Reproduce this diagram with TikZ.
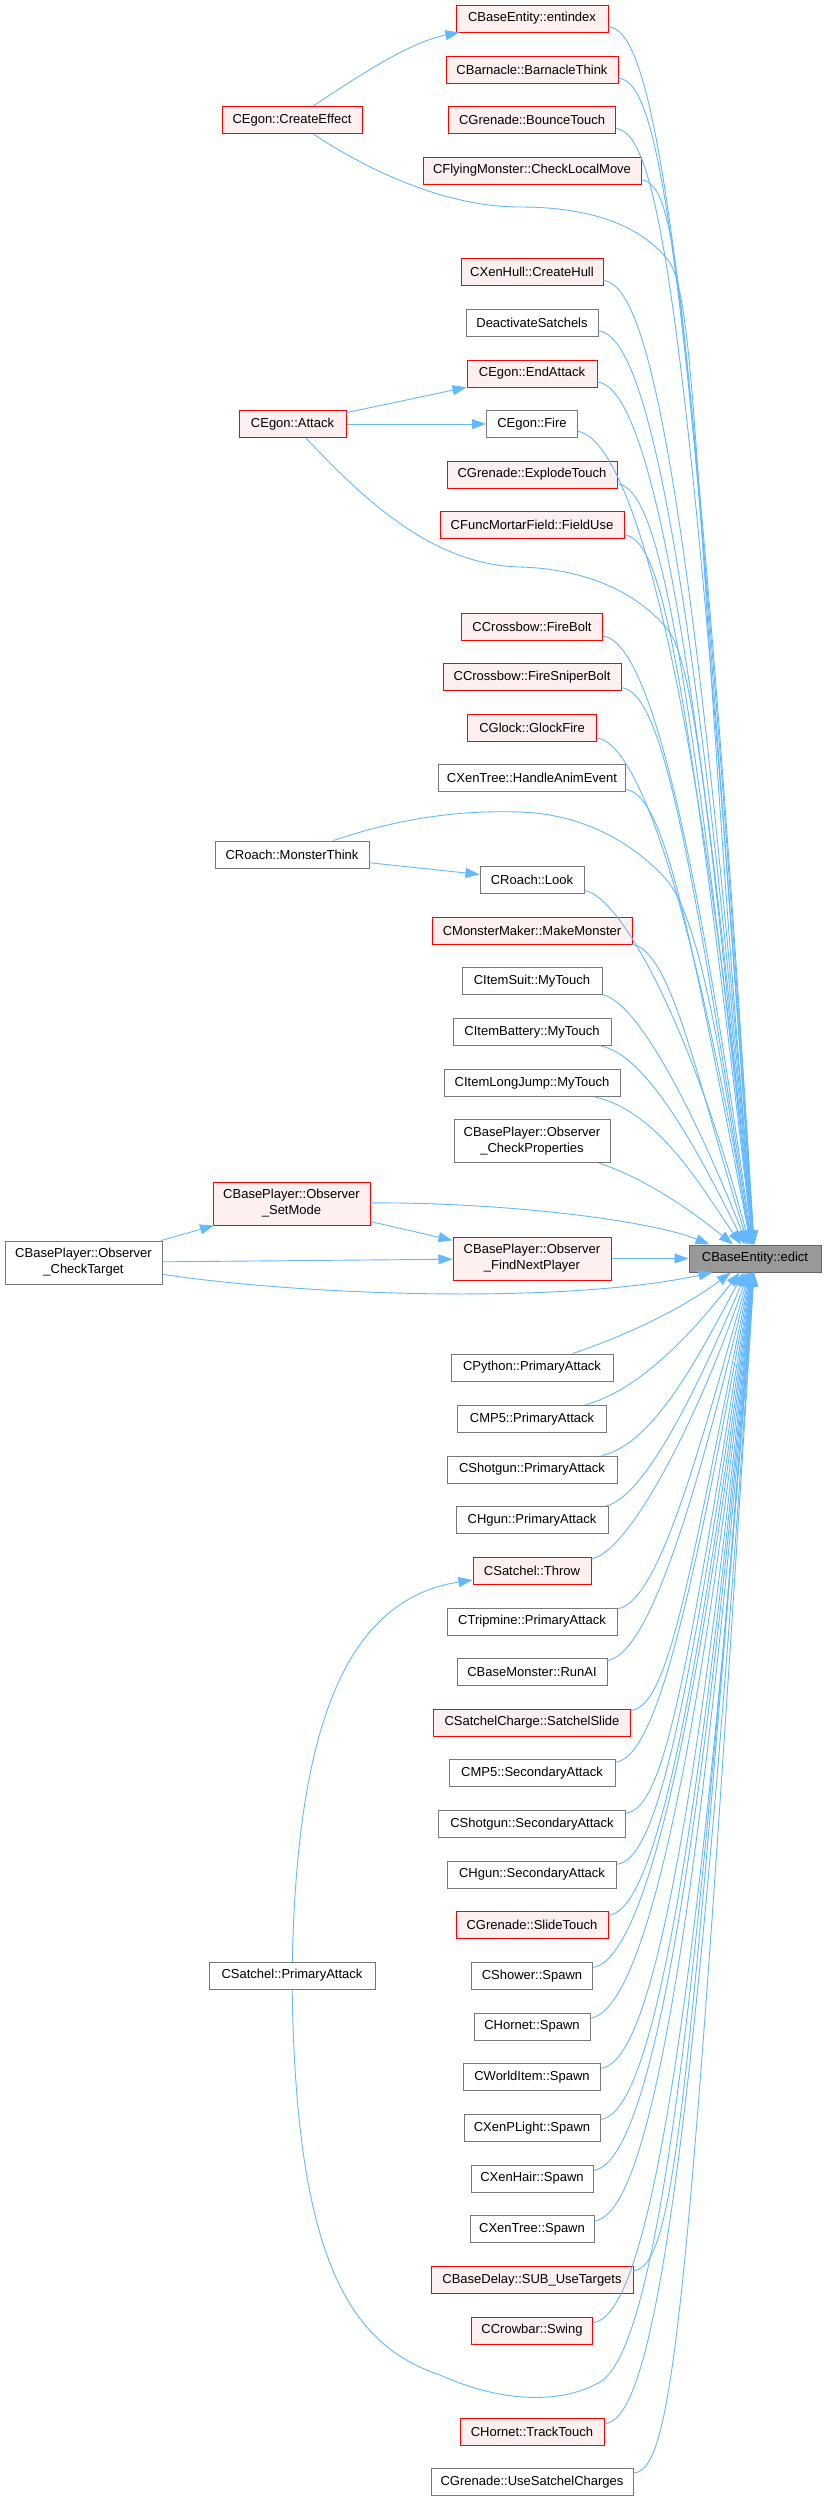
\documentclass[tikz,border=0pt]{standalone}
\usepackage{fontspec}
\setmainfont{Liberation Sans}
\usetikzlibrary{arrows.meta,calc}
\definecolor{edgeblue}{HTML}{63B8FF}
\definecolor{redfill}{HTML}{FFF0F0}
\definecolor{redline}{HTML}{FF0000}
\definecolor{grayline}{HTML}{777777}
\definecolor{edictfill}{HTML}{999999}
\definecolor{edictline}{HTML}{666666}
\begin{document}
\begin{tikzpicture}[x=1pt,y=-1pt,
  box/.style={rectangle, draw, line width=1pt, minimum height=27pt, inner sep=2pt,
    font=\fontsize{13pt}{16pt}\selectfont, align=center, text=black},
  rbox/.style={box, draw=redline, fill=redfill},
  gbox/.style={box, draw=grayline, fill=white},
  ebox/.style={box, draw=edictline, fill=edictfill},
  tall/.style={minimum height=43pt},
  calls/.style={draw=edgeblue, line width=0.9pt, -{Triangle[length=14pt,width=10pt]}}]
\fill[white] (0,0) rectangle (825,2501);
\useasboundingbox (0,0) rectangle (825,2501);

% target
\node[ebox, minimum width=132pt] (edict) at (755,1258.5) {CBaseEntity::edict};

% left column
\node[rbox, minimum width=140pt] (ce) at (292,120) {CEgon::CreateEffect};
\node[rbox, minimum width=107pt] (attack) at (292.5,424) {CEgon::Attack};
\node[gbox, minimum width=154pt] (mthink) at (292,854.5) {CRoach::MonsterThink};
\node[rbox, tall, minimum width=157pt] (setmode) at (291.5,1203.5) {CBasePlayer::Observer\\\_SetMode};
\node[gbox, minimum width=166pt] (pa) at (292,1975.5) {CSatchel::PrimaryAttack};
\node[gbox, tall, minimum width=157pt] (ct) at (83.5,1262.5) {CBasePlayer::Observer\\\_CheckTarget};

% middle column (upper)
\node[rbox, minimum width=152pt] (ent) at (532,18.5) {CBaseEntity::entindex};
\node[rbox, minimum width=172pt] (barn) at (532,69.5) {CBarnacle::BarnacleThink};
\node[rbox, minimum width=167pt] (bounce) at (532,120) {CGrenade::BounceTouch};
\node[rbox, minimum width=218pt] (clm) at (532,170.5) {CFlyingMonster::CheckLocalMove};
\node[rbox, minimum width=142pt] (hull) at (532,272) {CXenHull::CreateHull};
\node[gbox, minimum width=132pt] (deact) at (532,322.5) {DeactivateSatchels};
\node[rbox, minimum width=130pt] (endatt) at (532,373.5) {CEgon::EndAttack};
\node[gbox, minimum width=91pt] (fire) at (532,424) {CEgon::Fire};
\node[rbox, minimum width=170pt] (explode) at (532,474.5) {CGrenade::ExplodeTouch};
\node[rbox, minimum width=184pt] (fielduse) at (532,525) {CFuncMortarField::FieldUse};
\node[rbox, minimum width=141pt] (firebolt) at (532,626.5) {CCrossbow::FireBolt};
\node[rbox, minimum width=178pt] (sniper) at (532,677) {CCrossbow::FireSniperBolt};
\node[rbox, minimum width=129pt] (glock) at (532,728) {CGlock::GlockFire};
\node[gbox, minimum width=187pt] (anim) at (532,778) {CXenTree::HandleAnimEvent};
\node[gbox, minimum width=104pt] (look) at (532,880) {CRoach::Look};
\node[rbox, minimum width=200pt] (make) at (532,930.5) {CMonsterMaker::MakeMonster};
\node[gbox, minimum width=140pt] (suit) at (532,981) {CItemSuit::MyTouch};
\node[gbox, minimum width=158pt] (battery) at (532,1032) {CItemBattery::MyTouch};
\node[gbox, minimum width=176pt] (longjump) at (532,1083) {CItemLongJump::MyTouch};
\node[gbox, tall, minimum width=156pt] (checkprop) at (532,1141) {CBasePlayer::Observer\\\_CheckProperties};
\node[rbox, tall, minimum width=158pt] (fnp) at (532,1258.5) {CBasePlayer::Observer\\\_FindNextPlayer};

% middle column (lower)
\node[gbox, minimum width=162pt] (python) at (532,1367.5) {CPython::PrimaryAttack};
\node[gbox, minimum width=149pt] (mp5) at (532,1419) {CMP5::PrimaryAttack};
\node[gbox, minimum width=170pt] (shotgun) at (532,1469.5) {CShotgun::PrimaryAttack};
\node[gbox, minimum width=152pt] (hgun) at (532,1520) {CHgun::PrimaryAttack};
\node[rbox, minimum width=118pt] (throw) at (532,1571) {CSatchel::Throw};
\node[gbox, minimum width=170pt] (trip) at (532,1621.5) {CTripmine::PrimaryAttack};
\node[gbox, minimum width=150pt] (runai) at (532,1672) {CBaseMonster::RunAI};
\node[rbox, minimum width=197pt] (slide) at (532,1722.5) {CSatchelCharge::SatchelSlide};
\node[gbox, minimum width=166pt] (mpfives) at (532,1773) {CMP5::SecondaryAttack};
\node[gbox, minimum width=187pt] (shotguns) at (532,1824) {CShotgun::SecondaryAttack};
\node[gbox, minimum width=169pt] (hguns) at (532,1874.5) {CHgun::SecondaryAttack};
\node[rbox, minimum width=152pt] (slidet) at (532,1925) {CGrenade::SlideTouch};
\node[gbox, minimum width=121pt] (shower) at (532,1976) {CShower::Spawn};
\node[gbox, minimum width=116pt] (hornet) at (532,2026.5) {CHornet::Spawn};
\node[gbox, minimum width=137pt] (world) at (532,2077) {CWorldItem::Spawn};
\node[gbox, minimum width=136pt] (plight) at (532,2128) {CXenPLight::Spawn};
\node[gbox, minimum width=122pt] (hair) at (532,2178.5) {CXenHair::Spawn};
\node[gbox, minimum width=124pt] (tree) at (532,2229) {CXenTree::Spawn};
\node[rbox, minimum width=202pt] (subuse) at (532,2280) {CBaseDelay::SUB\_UseTargets};
\node[rbox, minimum width=121pt] (swing) at (532,2330.5) {CCrowbar::Swing};
\node[rbox, minimum width=144pt] (track) at (532,2432) {CHornet::TrackTouch};
\node[gbox, minimum width=202pt] (usesat) at (532,2482) {CGrenade::UseSatchelCharges};

% generic edges from upper middle nodes
\foreach \n/\xr/\yc in {ent/608/18.5, barn/618/69.5, bounce/615.5/120, clm/641/170.5,
  hull/603/272, deact/598/322.5, endatt/597/373.5, fire/577.5/424, explode/617/474.5,
  fielduse/624/525, firebolt/602.5/626.5, sniper/621/677, glock/596.5/728, anim/625.5/778,
  look/584/880, make/632/930.5, suit/602/981, battery/611/1032, longjump/620/1083,
  checkprop/610/1141} {
  \pgfmathsetmacro\dy{1245-\yc}
  \pgfmathsetmacro\ex{756-2400/\dy}
  \pgfmathsetmacro\off{\ex-755}
  \pgfmathsetmacro\cay{\yc+10+3000/\dy}
  \pgfmathsetmacro\th{atan(pow(\dy/120,1.2))}
  \pgfmathsetmacro\L{max(\dy-150,0.4*\dy)}
  \pgfmathsetmacro\cbx{\ex-\L*cos(\th)}
  \pgfmathsetmacro\cby{1245-\L*sin(\th)}
  \draw[calls] (\n) .. controls (\xr+40,\cay) and (\cbx,\cby) .. ($(edict.north)+(\off,0)$);
}

% generic edges from lower middle nodes
\foreach \n/\xr/\yc in {python/613/1367.5, mp5/606.5/1419, shotgun/617/1469.5, hgun/608/1520,
  throw/591/1571, trip/617/1621.5, runai/607/1672, slide/630.5/1722.5, mpfives/615/1773,
  shotguns/625.5/1824, hguns/616.5/1874.5, slidet/608/1925, shower/592.5/1976,
  hornet/590/2026.5, world/600.5/2077, plight/600/2128, hair/593/2178.5, tree/594/2229,
  subuse/633/2280, swing/592.5/2330.5, track/604/2432, usesat/633/2482} {
  \pgfmathsetmacro\dy{\yc-1272}
  \pgfmathsetmacro\ex{756-2400/\dy}
  \pgfmathsetmacro\off{\ex-755}
  \pgfmathsetmacro\cay{\yc-10-3000/\dy}
  \pgfmathsetmacro\th{atan(pow(\dy/120,1.2))}
  \pgfmathsetmacro\L{max(\dy-150,0.4*\dy)}
  \pgfmathsetmacro\cbx{\ex-\L*cos(\th)}
  \pgfmathsetmacro\cby{1272+\L*sin(\th)}
  \draw[calls] (\n) .. controls (\xr+40,\cay) and (\cbx,\cby) .. ($(edict.south)+(\off,0)$);
}

% special edges
\draw[calls] (ce) .. controls (360,75) and (410,42) .. (ent);
\draw[calls] (ce) .. controls (360,165) and (440,207) .. (520,207)
  .. controls (590,207) and (640,225) .. (668,260)
  .. controls (699,298) and (695,560) .. ($(edict.north)+(-1,0)$);

\draw[calls] (attack) -- (endatt);
\draw[calls] (attack) -- (fire);
\draw[calls] (attack) .. controls (360,495) and (430,565) .. (520,567)
  .. controls (590,569) and (640,595) .. (668,630)
  .. controls (696,665) and (712,850) .. ($(edict.north)+(-2,0)$);

\draw[calls] (mthink) -- (look);
\draw[calls] (mthink) .. controls (400,818) and (460,810) .. (520,812)
  .. controls (580,814) and (630,840) .. (665,878)
  .. controls (700,916) and (722,1060) .. ($(edict.north)+(-5,0)$);

\draw[calls] (ct) -- (setmode);
\draw[calls] (ct) -- (fnp);
\draw[calls] (setmode) -- (fnp);
\draw[calls] (fnp) -- (edict);
\draw[calls] (setmode) .. controls (500,1202) and (650,1220) .. ($(edict.north west)+(21,0)$);
\draw[calls] (ct) .. controls (300,1295) and (560,1305) .. ($(edict.south west)+(24,0)$);

\draw[calls] (pa) .. controls (297,1740) and (340,1600) .. (throw);
\draw[calls] (pa) .. controls (296,2260) and (350,2345) .. (440,2375)
  .. controls (500,2402) and (560,2405) .. (600,2382)
  .. controls (660,2347) and (700,1980) .. ($(edict.south)+(-2,0)$);
\end{tikzpicture}
\end{document}
